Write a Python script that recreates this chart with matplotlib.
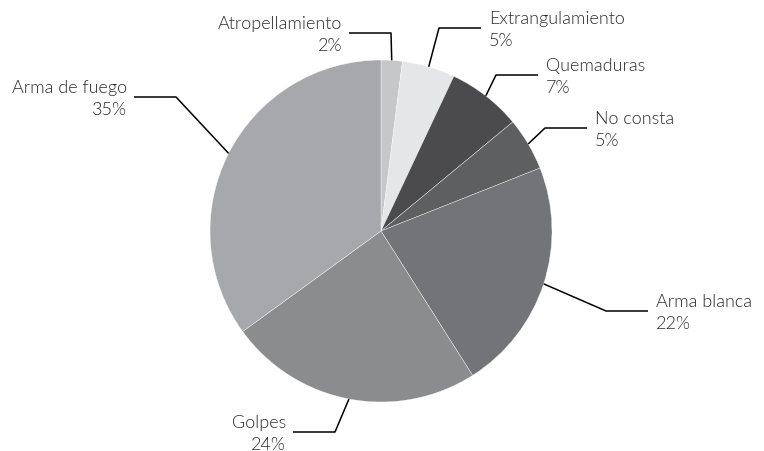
import numpy as np
import matplotlib.pyplot as plt

plt.rcParams['font.family'] = ['Lato', 'DejaVu Sans']

# Data (percentages, clockwise from top)
labels = ["Atropellamiento", "Extrangulamiento", "Quemaduras", "No consta",
          "Arma blanca", "Golpes", "Arma de fuego"]
values = [2, 5, 7, 5, 22, 24, 35]
colors = ["#c6c7c9", "#e5e6e7", "#4b4b4d", "#5e5f61",
          "#737477", "#8b8c8e", "#a7a8ab"]

# Layout in pixel coordinates: elbow point, end of horizontal line, side
elbows = [(391, 34), (439, 29), (496, 76), (545, 129),
          (606, 312), (335, 433), (176, 98)]
line_len = 42
sides = ["left", "right", "right", "right", "right", "left", "left"]

W, H = 764, 452
cx, cy, r = 381, 232, 171

fig = plt.figure(figsize=(W / 100, H / 100), dpi=100)
ax = fig.add_axes([0, 0, 1, 1])
ax.set_xlim(0, W)
ax.set_ylim(H, 0)
ax.set_aspect('equal')
ax.axis('off')

# inverted y-axis: startangle=-90 / counterclock=True shows clockwise from top
wedges, _ = ax.pie(values, colors=colors, center=(cx, cy), radius=r,
                   startangle=-90, counterclock=True,
                   wedgeprops=dict(edgecolor='white', linewidth=0.25))
ax.set_xlim(0, W)
ax.set_ylim(H, 0)

for w, lab, v, (ex, ey), side in zip(wedges, labels, values, elbows, sides):
    ang = np.deg2rad((w.theta1 + w.theta2) / 2)
    px = cx + r * np.cos(ang)
    py = cy + r * np.sin(ang)
    if side == "right":
        endx = ex + line_len
        tx = endx + 8
        ha = "left"
    else:
        endx = ex - line_len
        tx = endx - 7
        ha = "right"
    ax.plot([px, ex, endx], [py, ey, ey], color="black", lw=1.1,
            solid_capstyle='butt')
    ax.text(tx, ey + 1, f"{lab}\n{v}%", ha=ha, va="center", multialignment=ha,
            fontsize=13, fontweight=300, color="#2b2b2b", linespacing=1.45)

fig.savefig("out.png", dpi=100)
